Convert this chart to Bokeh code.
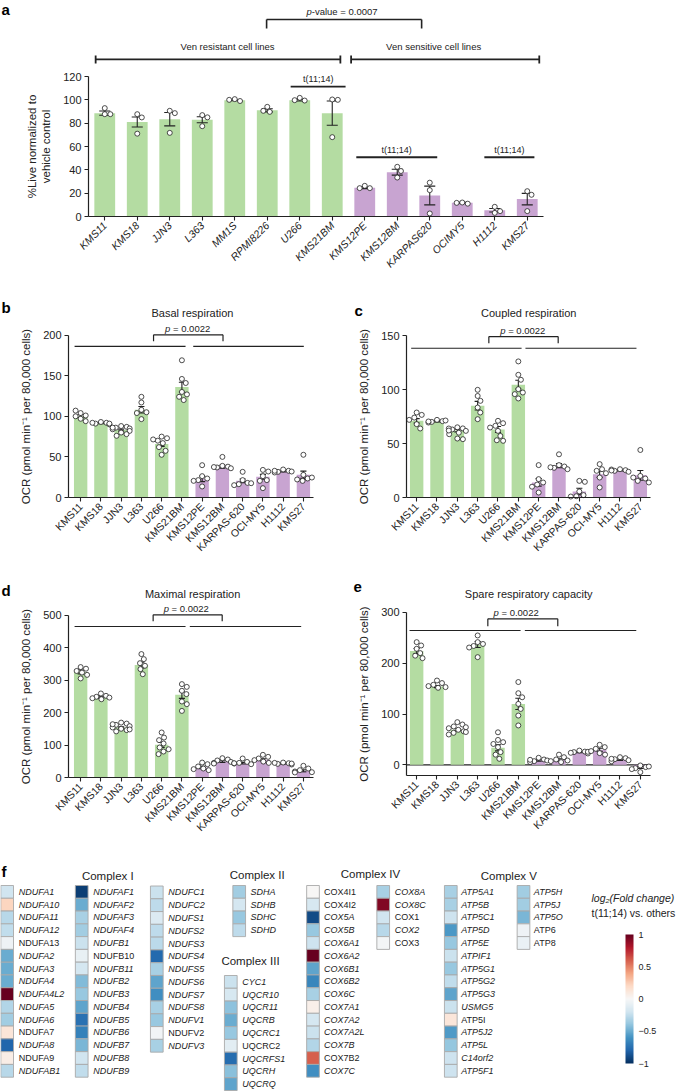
import math
import numpy as np
from bokeh.plotting import figure
from bokeh.models import (Range1d, FixedTicker, Label, ColumnDataSource, ColorBar,
                          LinearColorMapper)
from bokeh.layouts import column, row
from bokeh.core.properties import value
from bokeh.transform import linear_cmap
from bokeh.embed import file_html
from bokeh.resources import INLINE

FONT = "Liberation Sans"
INK = "#222222"
GREEN = "#b4dca2"
PURPLE = "#c8a4d1"

# ------------------------------------------------------------------ data: panel a
a_lines = ["KMS11", "KMS18", "JJN3", "L363", "MM1S", "RPMI8226", "U266", "KMS21BM",
           "KMS12PE", "KMS12BM", "KARPAS620", "OCIMY5", "H1112", "KMS27"]
a_group = ["R", "R", "R", "R", "R", "R", "R", "R", "S", "S", "S", "S", "S", "S"]
a_mean = [88.6, 81.0, 83.4, 82.9, 99.7, 91.0, 99.7, 88.6, 24.6, 38.0, 18.0, 11.7, 5.4, 14.9]
a_sem = [1.8, 4.3, 5.7, 2.6, 0.4, 1.3, 0.7, 10.4, 0.7, 2.5, 8.0, 0.4, 1.5, 4.9]
a_pts = [[92.9, 87.7, 87.7], [87.7, 71.0, 84.9], [90.6, 71.7, 88.6], [86.9, 77.4, 85.0],
         [100.6, 99.0, 100.0], [94.0, 89.7, 90.6], [101.7, 99.4, 99.7], [100.3, 68.0, 100.0],
         [26.3, 24.3, 24.3], [42.6, 39.0, 33.4], [29.0, 22.6, 2.6], [12.0, 11.0, 11.7],
         [8.3, 3.1, 4.6], [21.7, 18.6, 4.6]]
a_yticks = [0, 20, 40, 60, 80, 100, 120]

# ------------------------------------------------------------------ data: panels b-e
ocr_lines = ["KMS11", "KMS18", "JJN3", "L363", "U266", "KMS21BM",
             "KMS12PE", "KMS12BM", "KARPAS-620", "OCI-MY5", "H1112", "KMS27"]
ocr_group = ["R", "R", "R", "R", "R", "R", "S", "S", "S", "S", "S", "S"]

b_mean = [100.0, 91.5, 83.0, 108.0, 66.0, 136.0, 23.0, 38.0, 20.5, 25.5, 32.0, 28.0]
b_sem = [2.0, 0.6, 1.2, 4.0, 3.0, 6.0, 3.5, 1.8, 2.3, 3.0, 0.6, 4.5]
b_pts = [[104, 101, 97, 107, 94, 100], [93, 92, 91, 90, 92, 91],
         [88, 87, 86, 85, 84, 82, 80, 78, 76, 86], [117, 124, 108, 105, 96.5, 104],
         [75, 73, 70, 67, 62, 52.6, 57.5, 71.5], [169, 146, 141, 130, 127, 124, 120],
         [39.8, 26.3, 23.4, 21.4, 20.5, 13.6], [50, 39, 38, 37, 36, 37.5],
         [31.6, 21.4, 18, 16.4, 15.2, 17.6], [34, 32, 26.3, 21.4, 11.5, 20.5],
         [34.5, 32.9, 31.6, 30.8, 32, 32.9], [52.6, 27.9, 23.4, 20.5, 22.2, 24.6]]

c_mean = [71.0, 70.5, 62.0, 85.0, 63.0, 104.5, 14.0, 29.5, 5.6, 21.6, 25.0, 20.5]
c_sem = [2.0, 0.5, 1.2, 4.0, 2.8, 4.0, 3.5, 2.0, 3.0, 3.0, 0.4, 4.5]
c_pts = [[78.7, 76.5, 74, 71.9, 67.9, 63.9], [71.9, 70.7, 70, 69.4, 71.3, 70.4],
         [65, 64, 63, 61.7, 60, 58.6, 54.6, 54, 63.9, 62], [99.7, 94, 89.5, 83.3, 78.7, 72.5],
         [71, 68.8, 66.4, 61.7, 57, 53, 52.5, 64.8], [126, 113.6, 109, 100.3, 97.2, 91.7, 95.7],
         [30, 17, 13.9, 12, 10, 4.6], [40, 30, 28.7, 27.5, 26.2, 28],
         [15.4, 14.5, 5.6, 2.2, 1.2, 0.9], [30.9, 26.2, 24.7, 22.5, 18.5, 9.3],
         [26.2, 25.3, 24.7, 23.8, 25.9, 25], [44, 20, 17.6, 15.4, 18.5, 13.9]]

d_mean = [325.0, 246.0, 154.0, 346.0, 100.6, 254.6, 30.8, 49.0, 44.0, 54.4, 43.0, 20.5]
d_sem = [6.0, 2.5, 2.0, 9.0, 8.0, 11.0, 4.0, 2.5, 2.5, 3.5, 1.5, 3.0]
d_pts = [[340, 335, 328, 323, 316, 305], [258.7, 251.5, 248.5, 244, 241, 246],
         [169, 166, 162, 158, 154, 150, 146, 142, 164, 148], [380, 364.5, 352, 344, 333.7, 318],
         [138.6, 123, 115, 104.7, 92.4, 80, 72, 87], [287.5, 279, 267, 256.7, 234, 205, 225.8],
         [46, 41, 34, 27.7, 22.6, 25.7], [59.5, 55.4, 52.4, 48, 45, 43],
         [58.5, 48, 45, 43, 41, 44], [69.8, 63.6, 58.5, 53.4, 49, 45],
         [46, 44, 42, 40, 45, 43], [36, 27.7, 22.6, 18.5, 16.4, 15.4]]

e_mean = [224.0, 154.0, 69.0, 237.0, 33.5, 120.0, 8.5, 9.8, 25.0, 29.5, 9.8, -5.2]
e_sem = [5.0, 2.0, 2.0, 6.0, 6.0, 11.0, 1.3, 2.2, 1.0, 3.0, 1.2, 2.0]
e_pts = [[241.6, 235, 228.5, 220, 215, 210], [166, 161, 157.6, 155, 153, 151.7],
         [84, 79.4, 75.5, 72, 69, 66, 63, 59.7, 74, 64.5], [254.8, 241.6, 238, 234, 231, 212],
         [64, 49, 44.6, 34.8, 25, 20, 11.8, 41], [163, 141, 133, 120, 110, 97, 77.5],
         [13.8, 10.5, 7.2, 5.3, 8.5, 9.8], [20, 15, 10.5, 7.2, 5.3, 8.5],
         [28, 26, 25, 23.6, 22.3, 25.6], [39.4, 34.8, 31.5, 27, 23, 20],
         [15, 13, 11, 9, 7, 11.8], [-1.3, -4.6, -6.6, -8.5, -14.4, -3.3]]

b_yticks = [0, 50, 100, 150, 200]
c_yticks = [0, 50, 100, 150]
d_yticks = [0, 100, 200, 300, 400, 500]
e_yticks = [0, 100, 200, 300]
ocr_label = "OCR (pmol min\u207b\u00b9 per 80,000 cells)"

# ------------------------------------------------------------------ data: panel f
cI_a_genes = ["NDUFA1", "NDUFA10", "NDUFA11", "NDUFA12", "NDUFA13", "NDUFA2", "NDUFA3", "NDUFA4",
              "NDUFA4L2", "NDUFA5", "NDUFA6", "NDUFA7", "NDUFA8", "NDUFA9", "NDUFAB1"]
cI_a_lfc = [-0.2, 0.22, -0.28, -0.25, -0.05, -0.5, -0.5, -0.5, 1.0, -0.3, -0.35, 0.13, -0.8, 0.07, -0.28]
cI_b_genes = ["NDUFAF1", "NDUFAF2", "NDUFAF3", "NDUFAF4", "NDUFB1", "NDUFB10", "NDUFB11", "NDUFB2",
              "NDUFB3", "NDUFB4", "NDUFB5", "NDUFB6", "NDUFB7", "NDUFB8", "NDUFB9"]
cI_b_lfc = [-0.95, -0.5, -0.33, -0.35, -0.22, -0.08, -0.18, -0.44, -0.38, -0.53, -0.75, -0.68, -0.46, -0.2, -0.25]
cI_c_genes = ["NDUFC1", "NDUFC2", "NDUFS1", "NDUFS2", "NDUFS3", "NDUFS4", "NDUFS5", "NDUFS6",
              "NDUFS7", "NDUFS8", "NDUFV1", "NDUFV2", "NDUFV3"]
cI_c_lfc = [-0.22, -0.26, -0.14, -0.26, -0.27, -0.78, -0.33, -0.53, -0.62, -0.33, -0.38, -0.03, -0.33]
cII_genes = ["SDHA", "SDHB", "SDHC", "SDHD"]
cII_lfc = [-0.35, -0.18, -0.38, -0.26]
cIII_genes = ["CYC1", "UQCR10", "UQCR11", "UQCRB", "UQCRC1", "UQCRC2", "UQCRFS1", "UQCRH", "UQCRQ"]
cIII_lfc = [-0.22, -0.17, -0.41, -0.5, -0.38, -0.11, -0.77, -0.42, -0.53]
cIV_a_genes = ["COX4I1", "COX4I2", "COX5A", "COX5B", "COX6A1", "COX6A2", "COX6B1", "COX6B2",
               "COX6C", "COX7A1", "COX7A2", "COX7A2L", "COX7B", "COX7B2", "COX7C"]
cIV_a_lfc = [0.01, -0.17, -0.9, -0.38, -0.21, 1.0, -0.53, -0.66, -0.33, 0.06, -0.18, -0.22, -0.3, 0.6, -0.62]
cIV_b_genes = ["COX8A", "COX8C", "COX1", "COX2", "COX3"]
cIV_b_lfc = [-0.33, 0.93, -0.2, -0.28, -0.02]
cV_a_genes = ["ATP5A1", "ATP5B", "ATP5C1", "ATP5D", "ATP5E", "ATPIF1", "ATP5G1", "ATP5G2",
              "ATP5G3", "USMG5", "ATP5I", "ATP5J2", "ATP5L", "C14orf2", "ATP5F1"]
cV_a_lfc = [-0.33, -0.33, -0.21, -0.58, -0.38, -0.22, -0.38, -0.25, -0.53, -0.22, 0.12, -0.57, -0.39, -0.21, -0.21]
cV_b_genes = ["ATP5H", "ATP5J", "ATP5O", "ATP6", "ATP8"]
cV_b_lfc = [-0.35, -0.35, -0.46, -0.05, -0.07]
upright_genes = ["NDUFA13", "NDUFA7", "NDUFA9", "NDUFB10", "NDUFV2", "UQCRC2", "COX4I1", "COX4I2",
                 "COX7B2", "COX1", "COX3", "ATP5I", "ATP6", "ATP8"]
cbar_ticks = [-1, -0.5, 0, 0.5, 1]

# ------------------------------------------------------------------ helpers
def xmap(p0, v0, ppu):
    return lambda X: v0 + (X - p0) / ppu


def ymap(p0, v0, ppu):
    return lambda Y: v0 + (p0 - Y) / ppu


def make_fig(w, h, X0, Y0, xm, ym, axes=True):
    kw = {}
    if not axes:
        kw = dict(x_axis_location=None, y_axis_location=None)
    p = figure(width=w, height=h, x_range=Range1d(xm(X0), xm(X0 + w)),
               y_range=Range1d(ym(Y0 + h), ym(Y0)),
               output_backend="svg", toolbar_location=None, min_border=0, **kw)
    p.xgrid.visible = False
    p.ygrid.visible = False
    p.outline_line_color = None
    return p


def style_axes(p, names, yticks, ybounds, ylabel, xlab_size, xlab_style, xbounds, xaxis_y):
    xa = p.xaxis[0]
    ya = p.yaxis[0]
    for ax in (xa, ya):
        ax.axis_line_color = INK
        ax.axis_line_width = 1.2
        ax.major_tick_line_color = INK
        ax.major_tick_line_width = 1.1
        ax.major_tick_in = 0
        ax.major_tick_out = 4
        ax.minor_tick_line_color = None
        ax.major_label_text_font = FONT
        ax.major_label_text_color = INK
    xa.fixed_location = xaxis_y
    xa.bounds = xbounds
    xa.ticker = FixedTicker(ticks=list(range(len(names))))
    xa.major_label_overrides = {i: n for i, n in enumerate(names)}
    xa.major_label_orientation = math.pi / 4
    xa.major_label_text_font_size = xlab_size
    xa.major_label_text_font_style = xlab_style
    xa.major_label_standoff = 3
    ya.fixed_location = xbounds[0]
    ya.ticker = FixedTicker(ticks=yticks)
    ya.bounds = ybounds
    ya.major_label_text_font_size = "11px"
    ya.major_label_standoff = 3
    ya.axis_label = ylabel
    ya.axis_label_text_font = FONT
    ya.axis_label_text_font_style = "normal"
    ya.axis_label_text_font_size = "11.5px"
    ya.axis_label_text_color = INK
    ya.axis_label_standoff = 8


def txt(p, xs, ys, texts, size, align="center", style="normal", baseline="middle", color=INK):
    p.text(x=xs, y=ys, text=texts, text_font=value(FONT), text_font_size=value(size),
           text_font_style=style, text_align=align, text_baseline=baseline, text_color=color)


def seg(p, x0, y0, x1, y1, w):
    p.segment(x0=x0, y0=y0, x1=x1, y1=y1, line_color=INK, line_width=w)


def ptext(p, xsplit, y, rest, size="9.5px"):
    txt(p, [xsplit], [y], ["p"], size, align="right", style="italic")
    txt(p, [xsplit], [y], [rest], size, align="left")


def letter(p, x, y, s):
    p.add_layout(Label(x=x, y=y, text=s, text_font=FONT, text_font_size="15px",
                       text_font_style="bold", text_align="left", text_baseline="top",
                       text_color="black"))


def swarm(vals, ppu, ppc, d=5.6, lim=0.42):
    placed = []
    offs = [0.0] * len(vals)
    for i, v in enumerate(vals):
        y = v * ppu
        cands = [0.0]
        for (xp, yp) in placed:
            dy = abs(y - yp)
            if dy < d:
                dx = math.sqrt(d * d - dy * dy)
                cands += [xp + dx, xp - dx]
        cands.sort(key=abs)
        chosen = cands[-1]
        for c in cands:
            if all((c - xp) ** 2 + (y - yp) ** 2 >= d * d - 1e-6 for xp, yp in placed):
                chosen = c
                break
        placed.append((chosen, y))
        offs[i] = max(-lim, min(lim, chosen / ppc))
    return offs


def bars(p, groups, means, sems, pts, ppu, ppc, width, cap):
    xs = list(range(len(means)))
    colors = [GREEN if g == "R" else PURPLE for g in groups]
    p.vbar(x=xs, top=means, width=width, fill_color=colors, line_color=None)
    hi = [m + s for m, s in zip(means, sems)]
    lo = [m - s for m, s in zip(means, sems)]
    seg(p, xs, lo, xs, hi, 1.1)
    seg(p, [x - cap for x in xs], hi, [x + cap for x in xs], hi, 1.1)
    seg(p, [x - cap for x in xs], lo, [x + cap for x in xs], lo, 1.1)
    px, py = [], []
    for i, vals in enumerate(pts):
        offs = swarm(vals, ppu, ppc)
        px += [i + o for o in offs]
        py += list(vals)
    p.scatter(x=px, y=py, marker="circle", size=5, fill_color="white",
              line_color=INK, line_width=0.8)


def stat_marks(p, xa, xb, top, bot, gy, gl, gr, title, ty, tx, px_split, py_txt, lw=1.2):
    seg(p, [gl[0], gr[0]], [gy, gy], [gl[1], gr[1]], [gy, gy], lw)
    seg(p, [xa, xa, xb], [top, top, top], [xb, xa, xb], [top, bot, bot], lw)
    ptext(p, px_split, py_txt, "\u00a0= 0.0022")
    txt(p, [tx], [ty], [title], "11px")


# ------------------------------------------------------------------ panel a
xa_m, ya_m = xmap(88, -0.5, 32.5), ymap(216, 0, 140 / 120)
pa = make_fig(685, 282, 0, 0, xa_m, ya_m)
style_axes(pa, a_lines, a_yticks, (0, 120), "%Live normalized to\nvehicle control",
           "10.5px", "italic", (-0.5, 13.5), 0)
bars(pa, a_group, a_mean, a_sem, a_pts, 140 / 120, 32.5, 0.64, 0.17)
seg(pa, [-0.28, 7.58], [134.6, 134.6], [7.25, 13.37], [134.6, 134.6], 1.8)
seg(pa, [-0.28, 7.25, 7.58, 13.37], [131.2] * 4, [-0.28, 7.25, 7.58, 13.37], [138.0] * 4, 1.8)
txt(pa, [3.78, 10.12], [145.3, 145.3], ["Ven resistant cell lines", "Ven sensitive cell lines"], "9.5px")
seg(pa, [4.98, 4.98, 9.75], [168.9, 168.9, 168.9], [9.75, 4.98, 9.75], [168.9, 161.1, 161.1], 1.6)
ptext(pa, 6.37, 175.7, "-value = 0.0007")
seg(pa, [5.72, 7.74, 11.68], [111.4, 50.8, 50.8], [7.41, 10.23, 13.22], [111.4, 50.8, 50.8], 1.8)
txt(pa, [6.57, 8.98, 12.45], [117.6, 56.8, 56.8], ["t(11;14)"] * 3, "9px")
letter(pa, xa_m(1), ya_m(0), "a")

# ------------------------------------------------------------------ panel b
xb_m, yb_m = xmap(68, -0.6, 20.25), ymap(497, 0, 0.812)
pb = make_fig(346, 291, 0, 282, xb_m, yb_m)
style_axes(pb, ocr_lines, b_yticks, (0, 200), ocr_label, "10.5px", "normal", (-0.6, 11.5), 0)
bars(pb, ocr_group, b_mean, b_sem, b_pts, 0.812, 20.25, 0.66, 0.15)
stat_marks(pb, 3.6, 7.03, 200.4, 192.5, 186.0, (-0.30, 5.18), (5.56, 11.02),
           "Basal respiration", 227.5, 5.52, 4.43, 208.5)
letter(pb, xb_m(1), yb_m(298), "b")

# ------------------------------------------------------------------ panel c
xc_m, yc_m = xmap(406, -0.5, 20.333), ymap(497, 0, 1.08)
pc = make_fig(339, 291, 346, 282, xc_m, yc_m)
style_axes(pc, ocr_lines, c_yticks, (0, 150), ocr_label, "10.5px", "normal", (-0.5, 11.5), 0)
bars(pc, ocr_group, c_mean, c_sem, c_pts, 1.08, 20.33, 0.66, 0.15)
stat_marks(pc, 3.55, 6.96, 149.0, 142.9, 138.2, (-0.27, 5.16), (5.35, 10.81),
           "Coupled respiration", 171.0, 5.51, 4.37, 154.6)
letter(pc, xc_m(354), yc_m(301), "c")

# ------------------------------------------------------------------ panel d
xd_m, yd_m = xmap(68, -0.6, 20.25), ymap(777, 0, 0.3248)
pd_ = make_fig(346, 275, 0, 573, xd_m, yd_m)
style_axes(pd_, ocr_lines, d_yticks, (0, 500), ocr_label, "10.5px", "normal", (-0.6, 11.5), 0)
bars(pd_, ocr_group, d_mean, d_sem, d_pts, 0.3248, 20.25, 0.66, 0.15)
stat_marks(pd_, 3.58, 6.99, 501.0, 481.2, 464.9, (-0.30, 5.18), (5.39, 10.89),
           "Maximal respiration", 565.6, 5.53, 4.36, 521.2)
letter(pd_, xd_m(1), yd_m(581), "d")

# ------------------------------------------------------------------ panel e
xe_m, ye_m = xmap(406, -0.5, 20.333), ymap(764.3, 0, 0.5077)
pe = make_fig(339, 275, 346, 573, xe_m, ye_m)
style_axes(pe, ocr_lines, e_yticks, (-21.1, 300), ocr_label, "10.5px", "normal", (-0.5, 11.5), -21.1)
seg(pe, [-0.5], [0], [11.5], [0], 1.2)
bars(pe, ocr_group, e_mean, e_sem, e_pts, 0.5077, 20.33, 0.66, 0.15)
stat_marks(pe, 3.5, 6.94, 287.6, 273.0, 264.5, (-0.35, 5.11), (5.32, 10.8),
           "Spare respiratory capacity", 336.8, 5.51, 4.04, 300.6)
letter(pe, xe_m(353), ye_m(581), "e")

# ------------------------------------------------------------------ panel f
anchors = ["#053061", "#2166ac", "#4393c3", "#92c5de", "#d1e5f0", "#f7f7f7",
           "#fddbc7", "#f4a582", "#d6604d", "#b2182b", "#67001f"]
rgb = np.array([[int(h[k:k + 2], 16) for k in (1, 3, 5)] for h in anchors], float)
pos = np.linspace(0, 1, len(anchors))
PAL = []
for t in np.linspace(0, 1, 201):
    PAL.append("#%02x%02x%02x" % tuple(int(round(np.interp(t, pos, rgb[:, k]))) for k in range(3)))

pf = figure(width=685, height=243, x_range=Range1d(0, 685), y_range=Range1d(1091, 848),
            output_backend="svg", toolbar_location=None, min_border=0,
            x_axis_location=None, y_axis_location=None)
pf.xgrid.visible = False
pf.ygrid.visible = False
pf.outline_line_color = None

CW, CH = 12.7, 12.78
columns_f = [
    (cI_a_genes, cI_a_lfc, 6.65, 885.0, 18.3),
    (cI_b_genes, cI_b_lfc, 81.2, 885.0, 92.7),
    (cI_c_genes, cI_c_lfc, 156.3, 885.5, 167.7),
    (cII_genes, cII_lfc, 238.7, 885.0, 250.0),
    (cIII_genes, cIII_lfc, 230.3, 975.0, 241.7),
    (cIV_a_genes, cIV_a_lfc, 312.5, 885.0, 323.5),
    (cIV_b_genes, cIV_b_lfc, 382.7, 885.0, 394.3),
    (cV_a_genes, cV_a_lfc, 450.3, 885.0, 460.7),
    (cV_b_genes, cV_b_lfc, 523.0, 885.0, 533.3),
]
fx, fy, fv, fn, ftx, fst = [], [], [], [], [], []
for genes, vals, cx, top, tx in columns_f:
    for i, (g, v) in enumerate(zip(genes, vals)):
        fx.append(cx)
        fy.append(top + (i + 0.5) * CH)
        fv.append(v)
        fn.append(g)
        ftx.append(tx)
        fst.append("normal" if g in upright_genes else "italic")
fsrc = ColumnDataSource(dict(x=fx, y=fy, v=fv, name=fn, tx=ftx, st=fst))
pf.rect(x="x", y="y", width=CW, height=CH, source=fsrc,
        fill_color=linear_cmap("v", PAL, -1, 1), line_color="#a9a9a9", line_width=0.9)
pf.text(x="tx", y="y", text="name", source=fsrc, text_font=value(FONT),
        text_font_size=value("9px"), text_font_style="st", text_align="left",
        text_baseline="middle", text_color=INK)
txt(pf, [107.3, 256.7, 250.0, 370.0, 508.3], [875.0, 874.0, 960.7, 873.3, 875.0],
    ["Complex I", "Complex II", "Complex III", "Complex IV", "Complex V"], "11.5px")
txt(pf, [591.0], [897.0], ["log\u2082(Fold change)"], "10.5px", align="left", style="italic")
txt(pf, [591.0], [912.0], ["t(11;14) vs. others"], "10.5px", align="left")
letter(pf, 1.0, 862.0, "f")

mapper = LinearColorMapper(palette=PAL, low=-1, high=1)
cb = ColorBar(color_mapper=mapper, location=(625, 28), orientation="vertical",
              width=8, height=129, padding=0, margin=0,
              ticker=FixedTicker(ticks=cbar_ticks),
              major_label_overrides={-1: "\u22121", -0.5: "\u22120.5", 0: "0", 0.5: "0.5", 1: "1"},
              major_label_text_font=FONT, major_label_text_font_size="9px",
              major_label_text_color=INK,
              major_tick_line_color=None, minor_tick_line_color=None,
              bar_line_color=None, border_line_color=None,
              background_fill_alpha=0, label_standoff=5)
pf.add_layout(cb)

layout = column(column(pa), row(column(pb), column(pc)), row(column(pd_), column(pe)), column(pf))
open("out.html", "w").write(file_html(layout, INLINE))
